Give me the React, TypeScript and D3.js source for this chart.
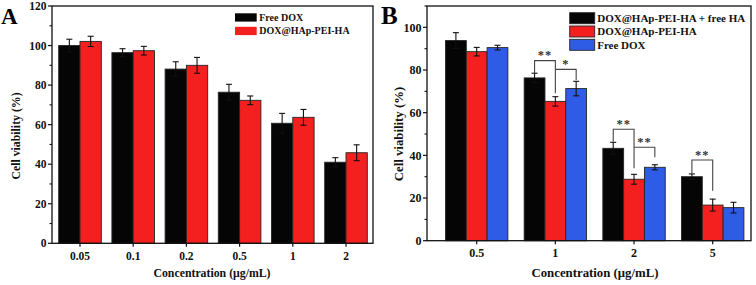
import React from "react";
import * as d3 from "d3";

const catsA = ["0.05", "0.1", "0.2", "0.5", "1", "2"];
const freeDoxA = [100.0, 96.4, 88.1, 76.4, 60.7, 41.0];
const freeDoxErrA = [3.2, 2.0, 3.7, 4.0, 5.0, 2.3];
const nanoA = [102.1, 97.4, 90.0, 72.3, 63.7, 45.8];
const nanoErrA = [2.6, 2.2, 4.0, 2.2, 4.0, 4.0];
const yTicksA = [0, 20, 40, 60, 80, 100, 120];

const catsB = ["0.5", "1", "2", "5"];
const plusHaB = [93.8, 76.3, 43.3, 30.0];
const plusHaErrB = [3.7, 2.2, 2.8, 1.3];
const nanoB = [88.6, 65.3, 28.8, 16.7];
const nanoErrB = [2.0, 2.2, 2.3, 2.8];
const freeDoxB = [90.5, 71.3, 34.4, 15.5];
const freeDoxErrB = [1.1, 3.4, 1.2, 2.5];
const yTicksB = [0, 20, 40, 60, 80, 100];

// significance brackets: category, left series, right series, top level, left end, right end (value units)
const bracketsB = [
  { cat: "1", a: 0, b: 1, top: 84.4, endA: 78.5, endB: 69.1, label: "**" },
  { cat: "1", a: 1, b: 2, top: 80.3, endA: 80.3, endB: 75.3, label: "*" },
  { cat: "2", a: 0, b: 1, top: 52.2, endA: 46.4, endB: 33.9, label: "**" },
  { cat: "2", a: 1, b: 2, top: 43.8, endA: 43.8, endB: 39.1, label: "**" },
  { cat: "5", a: 0, b: 1, top: 37.8, endA: 31.6, endB: 23.4, label: "**" },
];

const FONT = "'Liberation Serif', 'Times New Roman', serif";
const BLACK = "#050505";
const RED = "#f41f1f";
const BLUE = "#2f5ce6";
const STROKE = "#262626";

type Series = { name: string; values: number[]; errs: number[]; color: string };

function Panel(props: {
  letter: string;
  cats: string[];
  series: Series[];
  yMax: number;
  yTicks: number[];
  box: [number, number, number, number];
  xRange: [number, number];
  barW: number;
  tickFont: number;
  titleFont: number;
  yTitleX: number;
  yTitleY: number;
  xTitleX: number;
  legend: { x: number; y: number; sw: number; sh: number; step: number; font: number; border: boolean };
  letterPos: [number, number, number];
  brackets?: typeof bracketsB;
}) {
  const { cats, series, yMax, yTicks, box, xRange, barW } = props;
  const [x0, y0, x1, y1] = box;
  const y = d3.scaleLinear().domain([0, yMax]).range([y1, y0]);
  const x = d3.scalePoint<string>().domain(cats).range(xRange);
  const n = series.length;
  const offset = (k: number) => (k - n / 2) * barW;
  const minor = d3.range(10, yMax + 0.01, 20);
  const lg = props.legend;
  const capW = 3;
  return (
    <g fontFamily={FONT} fontWeight="bold">
      {series.map((s, k) =>
        cats.map((c, i) => {
          const bx = (x(c) as number) + offset(k);
          return (
            <rect
              key={s.name + c}
              x={bx}
              y={y(s.values[i])}
              width={barW}
              height={y(0) - y(s.values[i])}
              fill={s.color}
              stroke={STROKE}
              strokeWidth={0.9}
            />
          );
        })
      )}
      {series.map((s, k) =>
        cats.map((c, i) => {
          const cx = (x(c) as number) + offset(k) + barW / 2;
          const hi = y(s.values[i] + s.errs[i]);
          const lo = y(s.values[i] - s.errs[i]);
          return (
            <g key={"e" + s.name + c} stroke="#111" strokeWidth={1.1}>
              <line x1={cx} x2={cx} y1={hi} y2={lo} />
              <line x1={cx - capW} x2={cx + capW} y1={hi} y2={hi} />
              <line x1={cx - capW} x2={cx + capW} y1={lo} y2={lo} />
            </g>
          );
        })
      )}
      {(props.brackets || []).map((b, i) => {
        const c = x(b.cat) as number;
        const ax = c + offset(b.a) + barW / 2;
        const bxp = c + offset(b.b) + barW / 2;
        const top = y(b.top);
        return (
          <g key={"b" + i}>
            <path
              d={`M${ax},${y(b.endA)}V${top}H${bxp}V${y(b.endB)}`}
              fill="none"
              stroke="#444"
              strokeWidth={1.1}
            />
            <text x={(ax + bxp) / 2} y={top - 1.5} textAnchor="middle" fontSize={12.5} fill="#333" letterSpacing={1}>
              {b.label}
            </text>
          </g>
        );
      })}
      <rect x={x0} y={y0} width={x1 - x0} height={y1 - y0} fill="none" stroke="#111" strokeWidth={1.3} />
      {yTicks.map((t) => (
        <g key={"yt" + t}>
          <line x1={x0 - 4} x2={x0} y1={y(t)} y2={y(t)} stroke="#111" strokeWidth={1.2} />
          <text x={x0 - 5.5} y={y(t)} dy="0.35em" textAnchor="end" fontSize={props.tickFont} fill="#111">
            {t}
          </text>
        </g>
      ))}
      {minor.map((t) => (
        <line key={"ym" + t} x1={x0 - 2.5} x2={x0} y1={y(t)} y2={y(t)} stroke="#111" strokeWidth={1.1} />
      ))}
      {cats.map((c) => (
        <g key={"xt" + c}>
          <line x1={x(c)} x2={x(c)} y1={y1} y2={y1 + 3.5} stroke="#111" strokeWidth={1.2} />
          <text x={x(c)} y={y1 + 16.5} textAnchor="middle" fontSize={props.tickFont} fill="#111">
            {c}
          </text>
        </g>
      ))}
      <text x={props.xTitleX} y={277} textAnchor="middle" fontSize={props.titleFont} fill="#111">
        Concentration (μg/mL)
      </text>
      <text
        transform={`translate(${props.yTitleX},${props.yTitleY}) rotate(-90)`}
        textAnchor="middle"
        dy="0.35em"
        fontSize={props.titleFont}
        fill="#111"
      >
        Cell viability (%)
      </text>
      <text x={props.letterPos[0]} y={props.letterPos[1]} fontSize={props.letterPos[2]} fill="#000">
        {props.letter}
      </text>
      {series.map((s, k) => (
        <g key={"lg" + s.name}>
          <rect
            x={lg.x}
            y={lg.y + k * lg.step}
            width={lg.sw}
            height={lg.sh}
            fill={s.color}
            stroke={lg.border ? STROKE : "none"}
            strokeWidth={0.9}
          />
          <text x={lg.x + lg.sw + 2.5} y={lg.y + k * lg.step + lg.sh / 2} dy="0.35em" fontSize={lg.font} fill="#111">
            {s.name}
          </text>
        </g>
      ))}
    </g>
  );
}

export default function App() {
  const seriesA: Series[] = [
    { name: "Free DOX", values: freeDoxA, errs: freeDoxErrA, color: BLACK },
    { name: "DOX@HAp-PEI-HA", values: nanoA, errs: nanoErrA, color: RED },
  ];
  const seriesB: Series[] = [
    { name: "DOX@HAp-PEI-HA + free HA", values: plusHaB, errs: plusHaErrB, color: BLACK },
    { name: "DOX@HAp-PEI-HA", values: nanoB, errs: nanoErrB, color: RED },
    { name: "Free DOX", values: freeDoxB, errs: freeDoxErrB, color: BLUE },
  ];
  return (
    <svg
      width={756}
      height={285}
      viewBox="0 0 756 285"
      style={{ position: "absolute", left: 0, top: 0, background: "#fff" }}
    >
      <rect width={756} height={285} fill="#fff" />
      <Panel
        letter="A"
        cats={catsA}
        series={seriesA}
        yMax={120}
        yTicks={yTicksA}
        box={[52, 6, 373, 243.3]}
        xRange={[80, 346]}
        barW={21.3}
        tickFont={11.5}
        titleFont={11.8}
        yTitleX={15.5}
        yTitleY={136}
        xTitleX={212}
        legend={{ x: 235, y: 13.3, sw: 21.7, sh: 8.3, step: 13.5, font: 10, border: false }}
        letterPos={[1, 23.5, 23]}
      />
      <Panel
        letter="B"
        cats={catsB}
        series={seriesB}
        yMax={110}
        yTicks={yTicksB}
        box={[427, 6, 751, 240.7]}
        xRange={[476.7, 712.7]}
        barW={20.8}
        tickFont={12}
        titleFont={12.8}
        yTitleX={398.5}
        yTitleY={134}
        xTitleX={595}
        legend={{ x: 569.7, y: 12.7, sw: 25, sh: 11, step: 13.3, font: 11, border: true }}
        letterPos={[381, 23.5, 25]}
        brackets={bracketsB}
      />
    </svg>
  );
}
